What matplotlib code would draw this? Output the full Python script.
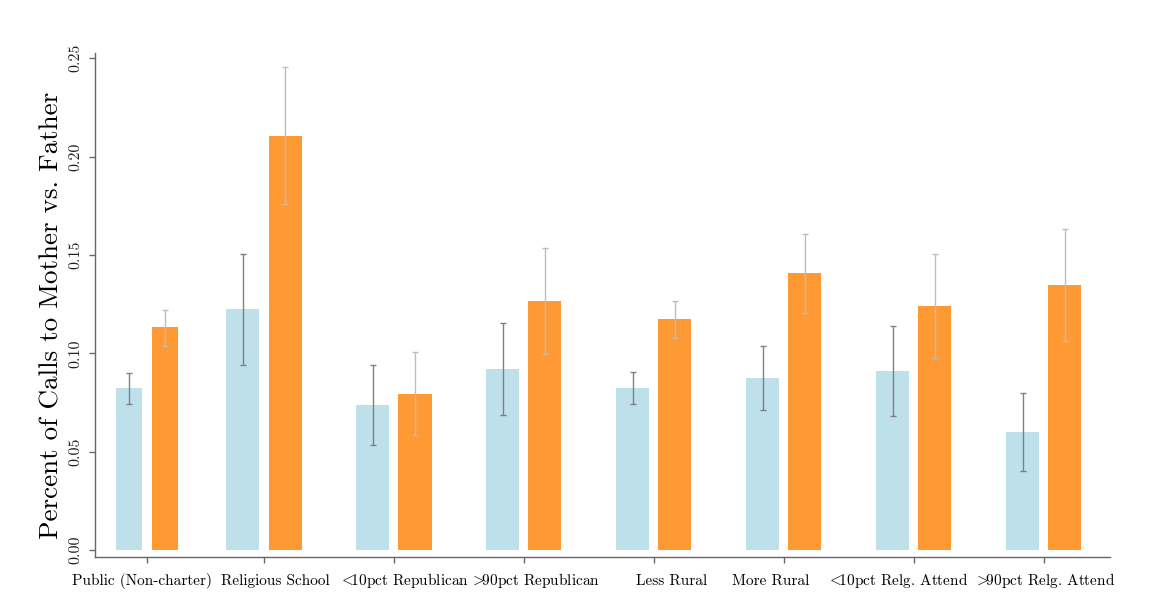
import matplotlib
matplotlib.use("Agg")
import matplotlib.pyplot as plt
import numpy as np

plt.rcParams['font.family'] = ['cmr10', 'DejaVu Serif']
plt.rcParams['mathtext.fontset'] = 'cm'
plt.rcParams['axes.unicode_minus'] = False
plt.rcParams['axes.formatter.use_mathtext'] = True

categories = ['Public (Non-charter)', 'Religious School', r'$\!\!<\!\!$10pct Republican',
              r'$\!\!>\!\!$90pct Republican', 'Less Rural', 'More Rural',
              r'$\!\!<\!\!$10pct Relg. Attend', r'$\!\!>\!\!$90pct Relg. Attend']

# first series (light blue) and second series (orange), with error bar ends
blue_vals = [0.0822, 0.1225, 0.0738, 0.0920, 0.0823, 0.0874, 0.0910, 0.0601]
blue_hi = [0.0899, 0.1504, 0.0942, 0.1157, 0.0904, 0.1037, 0.1138, 0.0801]
blue_lo = [0.0742, 0.0943, 0.0535, 0.0686, 0.0743, 0.0711, 0.0681, 0.0403]

orange_vals = [0.1132, 0.2107, 0.0793, 0.1267, 0.1174, 0.1408, 0.1241, 0.1347]
orange_hi = [0.1223, 0.2458, 0.1005, 0.1538, 0.1269, 0.1607, 0.1506, 0.1633]
orange_lo = [0.1040, 0.1760, 0.0583, 0.0996, 0.1081, 0.1208, 0.0979, 0.1062]

yticks = [0.00, 0.05, 0.10, 0.15, 0.20, 0.25]

# layout (the first group is drawn narrower in the original, and the
# category labels do not sit exactly under the tick marks)
pos = np.array([0.1, 1, 2, 3, 4, 5, 6, 7])
label_pos = [0.065, 1.085, 2.085, 3.1, 4.14, 4.9, 5.89, 7.02]
width = np.array([0.2, 0.254, 0.254, 0.254, 0.254, 0.254, 0.254, 0.254])
shift = width / 2 + 0.035

blue_vals = np.array(blue_vals)
orange_vals = np.array(orange_vals)
blue_err = [blue_vals - np.array(blue_lo), np.array(blue_hi) - blue_vals]
orange_err = [orange_vals - np.array(orange_lo), np.array(orange_hi) - orange_vals]

fig = plt.figure(figsize=(11.66, 6.14), dpi=100)
ax = fig.add_axes([0.0815, 0.093, 0.8705, 0.821])

ax.bar(pos - shift, blue_vals, width=width, color='#bee0eb', zorder=2)
ax.bar(pos + shift, orange_vals, width=width, color='#ff9933', zorder=2)
ax.errorbar(pos - shift, blue_vals, yerr=blue_err, fmt='none', ecolor='#808080',
            elinewidth=1.0, capsize=2.5, capthick=1.0, zorder=3)
ax.errorbar(pos + shift, orange_vals, yerr=orange_err, fmt='none', ecolor='#bdbdbd',
            elinewidth=1.0, capsize=2.5, capthick=1.0, zorder=3)

ax.set_xlim(-0.3, 7.51)
ax.set_ylim(-0.0034, 0.2528)
ax.set_xticks(pos)
ax.set_xticklabels([''] * len(pos))
ax.set_xticks(label_pos, minor=True)
ax.set_xticklabels(categories, minor=True, fontsize=11)
for lab in ax.get_xticklabels(minor=True):
    lab.set_verticalalignment('baseline')
ax.set_yticks(yticks)
ax.set_yticklabels(['%.2f' % v for v in yticks], fontsize=11.5, rotation=90, va='center')
ax.set_ylabel('Percent of Calls to Mother vs. Father', fontsize=19.5)
ax.yaxis.set_label_coords(-0.031, 0.48)

for s in ['top', 'right']:
    ax.spines[s].set_visible(False)
for s in ['left', 'bottom']:
    ax.spines[s].set_color('#666666')
    ax.spines[s].set_linewidth(1.0)
ax.tick_params(axis='both', colors='#666666', labelcolor='#222222', length=4, width=1.0)
ax.tick_params(axis='x', which='minor', length=0, pad=20)
ax.tick_params(axis='y', pad=5)

fig.savefig('out.png', dpi=100)
